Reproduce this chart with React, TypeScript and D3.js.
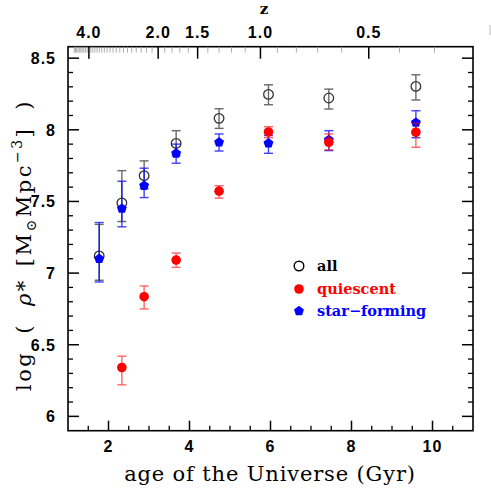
import * as d3 from 'd3';

// age of the Universe (Gyr) for each redshift bin
const ages = [1.77, 2.33, 2.88, 3.67, 4.73, 5.95, 7.44, 9.59];

// all galaxies
const allVal = [7.12, 7.49, 7.68, 7.905, 8.08, 8.247, 8.222, 8.303];
const allLo = [6.95, 7.36, 7.59, 7.82, 8.01, 8.175, 8.145, 8.208];
const allHi = [7.34, 7.715, 7.783, 7.994, 8.147, 8.314, 8.284, 8.384];

// quiescent (no point in the first bin)
const qAges = [2.33, 2.88, 3.67, 4.73, 5.95, 7.44, 9.59];
const qVal = [6.341, 6.835, 7.091, 7.572, 7.985, 7.913, 7.983];
const qLo = [6.22, 6.75, 7.04, 7.523, 7.945, 7.86, 7.878];
const qHi = [6.42, 6.91, 7.14, 7.61, 8.022, 7.971, 8.045];

// star-forming
const sfVal = [7.10, 7.45, 7.61, 7.835, 7.912, 7.906, 7.929, 8.05];
const sfLo = [6.938, 7.323, 7.527, 7.767, 7.852, 7.836, 7.855, 7.945];
const sfHi = [7.353, 7.641, 7.732, 7.9, 7.971, 7.96, 7.994, 8.133];

const xTicks = [2, 4, 6, 8, 10];
const yTicks = [6, 6.5, 7, 7.5, 8, 8.5];
const zTicks = [4.0, 2.0, 1.5, 1.0, 0.5];

const W = 491;
const H = 491;
const L = 68, R = 473, T = 46.7, B = 430.7;

// flat LCDM, H0=70, Om=0.3
const zToAge = (z: number) => 11.13 * Math.asinh(1.52753 * Math.pow(1 + z, -1.5));

const RED = '#ff0000';
const BLUE = '#0000ff';
const SERIF = 'DejaVu Serif, serif';

function pentagon(cx: number, cy: number, r: number) {
  const pts = d3.range(5).map(i => {
    const a = -Math.PI / 2 + (i * 2 * Math.PI) / 5;
    return [cx + r * Math.cos(a), cy + r * Math.sin(a)].join(',');
  });
  return pts.join(' ');
}

export default function App() {
  const x = d3.scaleLinear().domain([1, 11]).range([L, R]);
  const y = d3.scaleLinear().domain([5.9, 8.58]).range([B, T]);

  const xMinor = d3.range(1.5, 11, 0.5).filter(v => !xTicks.includes(v));
  const yMinor = d3.range(60, 86).map(v => v / 10).filter(v => !yTicks.includes(v));
  const zMinor = d3.range(3, 51).map(v => v / 10).filter(v => !zTicks.some(t => Math.abs(t - v) < 1e-6));

  const errBar = (xv: number, lo: number, hi: number, color: string, op: number, key: string) => (
    <g key={key} stroke={color} strokeWidth={1.4} opacity={op}>
      <line x1={x(xv)} x2={x(xv)} y1={y(lo)} y2={y(hi)} />
      <line x1={x(xv) - 4.5} x2={x(xv) + 4.5} y1={y(lo)} y2={y(lo)} />
      <line x1={x(xv) - 4.5} x2={x(xv) + 4.5} y1={y(hi)} y2={y(hi)} />
    </g>
  );

  const tickFont = {
    fontFamily: 'Liberation Sans, Arial, sans-serif',
    fontWeight: 'bold' as const,
    fontSize: 16,
    letterSpacing: 1,
  };

  return (
    <svg width={W} height={H} style={{ position: 'absolute', left: 0, top: 0, background: '#fff' }}>
      <rect x={0} y={0} width={W} height={H} fill="#fff" />

      {/* all: errorbars + open circles */}
      {ages.map((a, i) => errBar(a, allLo[i], allHi[i], '#444', 0.8, 'ae' + i))}
      {ages.map((a, i) => (
        <circle key={'ac' + i} cx={x(a)} cy={y(allVal[i])} r={4.8} fill="none" stroke="#333" strokeWidth={1.3} />
      ))}

      {/* star-forming */}
      {ages.map((a, i) => errBar(a, sfLo[i], sfHi[i], BLUE, 0.75, 'se' + i))}
      {ages.map((a, i) => (
        <polygon key={'sp' + i} points={pentagon(x(a), y(sfVal[i]), 5.2)} fill={BLUE} />
      ))}

      {/* quiescent */}
      {qAges.map((a, i) => errBar(a, qLo[i], qHi[i], RED, 0.6, 'qe' + i))}
      {qAges.map((a, i) => (
        <circle key={'qc' + i} cx={x(a)} cy={y(qVal[i])} r={4.8} fill={RED} />
      ))}

      {/* frame */}
      <rect x={L} y={T} width={R - L} height={B - T} fill="none" stroke="#000" strokeWidth={1.6} />

      {/* bottom ticks */}
      {xTicks.map(v => (
        <line key={'xt' + v} x1={x(v)} x2={x(v)} y1={B} y2={B - 10} stroke="#000" strokeWidth={1.5} />
      ))}
      {xMinor.map(v => (
        <line key={'xm' + v} x1={x(v)} x2={x(v)} y1={B} y2={B - 5} stroke="#000" strokeWidth={1.3} />
      ))}
      {xTicks.map(v => (
        <text key={'xl' + v} x={x(v)} y={452} textAnchor="middle" {...tickFont}>{v}</text>
      ))}

      {/* left / right ticks */}
      {yTicks.map(v => (
        <g key={'yt' + v} stroke="#000" strokeWidth={1.5}>
          <line x1={L} x2={L + 11} y1={y(v)} y2={y(v)} />
          <line x1={R} x2={R - 11} y1={y(v)} y2={y(v)} />
        </g>
      ))}
      {yMinor.map(v => (
        <g key={'ym' + v} stroke="#000" strokeWidth={1.3}>
          <line x1={L} x2={L + 5} y1={y(v)} y2={y(v)} />
          <line x1={R} x2={R - 5} y1={y(v)} y2={y(v)} />
        </g>
      ))}
      {yTicks.map(v => (
        <text key={'yl' + v} x={56} y={y(v) + 6} textAnchor="end" {...tickFont}>{v}</text>
      ))}

      {/* top redshift axis */}
      {zMinor.map(v => (
        <line key={'zm' + v} x1={x(zToAge(v))} x2={x(zToAge(v))} y1={T} y2={T + 6} stroke="#999" strokeWidth={0.8} />
      ))}
      {zTicks.map(v => (
        <line key={'zt' + v} x1={x(zToAge(v))} x2={x(zToAge(v))} y1={T} y2={T + 12} stroke="#000" strokeWidth={1.5} />
      ))}
      {zTicks.map(v => (
        <text key={'zl' + v} x={x(zToAge(v))} y={38} textAnchor="middle" {...tickFont}>{v.toFixed(1)}</text>
      ))}
      <text x={264} y={14} textAnchor="middle" fontFamily={SERIF} fontWeight="bold" fontSize={15}>z</text>
      <line x1={490} x2={490} y1={25} y2={35} stroke="#bbb" strokeWidth={1} />

      {/* axis titles */}
      <text x={270} y={481} textAnchor="middle" fontFamily={SERIF} fontSize={21} letterSpacing={0.85}>
        age of the Universe (Gyr)
      </text>
      <text transform="translate(31,245) rotate(-90)" textAnchor="middle" fontFamily={SERIF} fontSize={21} letterSpacing={2.5}>
        log<tspan dx={17}>(</tspan>
        <tspan dx={17} fontStyle="italic">ρ</tspan>*
        <tspan dx={12}>[M</tspan>
        <tspan fontSize={14} dy={5}>⊙</tspan>
        <tspan dy={-5}>Mpc</tspan>
        <tspan fontSize={14} dy={-9}>−3</tspan>
        <tspan dy={9}>]</tspan>
        <tspan dx={17}>)</tspan>
      </text>

      {/* legend */}
      <circle cx={299} cy={266} r={4.8} fill="none" stroke="#000" strokeWidth={1.4} />
      <text x={317} y={271} fontFamily={SERIF} fontWeight="bold" fontSize={14.5}>all</text>
      <circle cx={299} cy={289} r={4.8} fill={RED} />
      <text x={317} y={294} fill={RED} fontFamily={SERIF} fontWeight="bold" fontSize={14.5}>quiescent</text>
      <polygon points={pentagon(299, 311, 5.2)} fill={BLUE} />
      <text x={317} y={316} fill={BLUE} fontFamily={SERIF} fontWeight="bold" fontSize={14.5}>star−forming</text>
    </svg>
  );
}
